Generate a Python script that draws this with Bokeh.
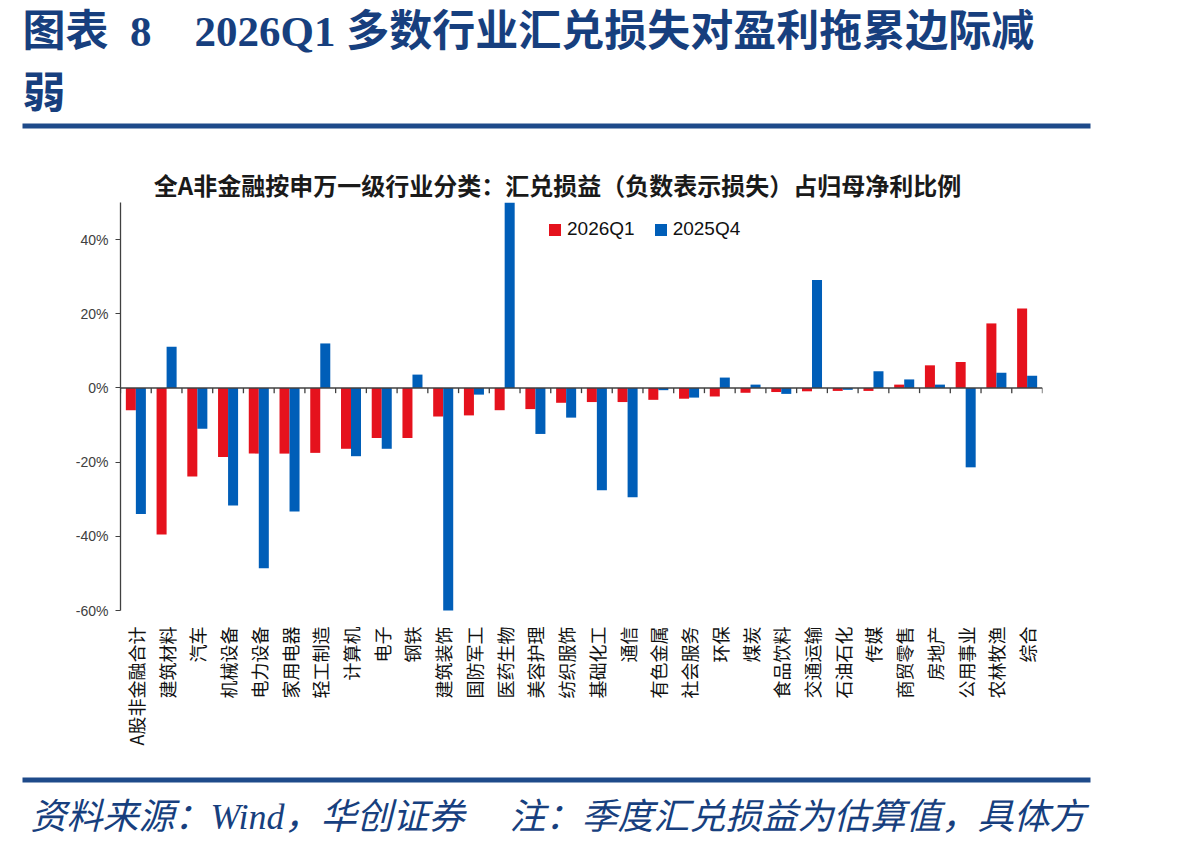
import math
from bokeh.plotting import figure
from bokeh.layouts import column
from bokeh.models import (Range1d, FixedTicker, NumeralTickFormatter, Span, Label,
                          ColumnDataSource)
from bokeh.embed import file_html
from bokeh.resources import INLINE

# 申万一级行业：汇兑损益占归母净利比例
industries = ["A股非金融合计", "建筑材料", "汽车", "机械设备", "电力设备", "家用电器",
              "轻工制造", "计算机", "电子", "钢铁", "建筑装饰", "国防军工", "医药生物",
              "美容护理", "纺织服饰", "基础化工", "通信", "有色金属", "社会服务", "环保",
              "煤炭", "食品饮料", "交通运输", "石油石化", "传媒", "商贸零售", "房地产",
              "公用事业", "农林牧渔", "综合"]
q1_2026 = [-0.060, -0.395, -0.239, -0.186, -0.177, -0.177, -0.175, -0.164, -0.135,
           -0.135, -0.077, -0.074, -0.060, -0.057, -0.040, -0.038, -0.038, -0.032,
           -0.029, -0.023, -0.013, -0.011, -0.009, -0.008, -0.008, 0.009, 0.061,
           0.070, 0.174, 0.214]
q4_2025 = [-0.340, 0.111, -0.110, -0.317, -0.486, -0.333, 0.120, -0.184, -0.164,
           0.036, -0.610, -0.018, 0.520, -0.124, -0.080, -0.276, -0.295, -0.006,
           -0.026, 0.028, 0.009, -0.016, 0.291, -0.005, 0.045, 0.023, 0.009,
           -0.214, 0.041, 0.033]
series_names = ["2026Q1", "2025Q4"]
y_ticks = [-0.6, -0.4, -0.2, 0.0, 0.2, 0.4]

RED = "#E5121D"
BLUE = "#005EB8"
NAVY = "#173F7E"
RULE = "#1E4A8A"
HEAD_FONT = "'Liberation Serif', 'Noto Sans CJK SC'"
NB = "\u00a0"

W = 1198
HEAD_H, CHART_H, FOOT_H = 202, 568, 78
L, R = 120, 1042


def banner(height):
    """A bare figure whose data coordinates are pixel positions (y downward)."""
    f = figure(width=W, height=height, output_backend="svg", toolbar_location=None,
               x_range=Range1d(0, W), y_range=Range1d(height, 0),
               min_border=0, outline_line_color=None, x_axis_type=None,
               y_axis_type=None, background_fill_color="white",
               border_fill_color="white")
    f.frame_align = False
    f.title.visible = False
    f.xgrid.visible = False
    f.ygrid.visible = False
    return f


# ---- header: report title, rule, chart title
head = banner(HEAD_H)
head.add_layout(Label(x=22, y=31,
                      text=f"图表{NB * 2}8{NB * 4}2026Q1 多数行业汇兑损失对盈利拖累边际减",
                      text_font=HEAD_FONT, text_font_style="bold", text_font_size="43px",
                      text_color=NAVY, text_align="left", text_baseline="middle"))
head.add_layout(Label(x=22, y=93, text="弱", text_font=HEAD_FONT,
                      text_font_style="bold", text_font_size="43px", text_color=NAVY,
                      text_align="left", text_baseline="middle"))
head.quad(left=[22], right=[1090], top=[123], bottom=[128], fill_color=RULE,
          line_color=None)
head.add_layout(Label(x=557, y=184,
                      text="全A非金融按申万一级行业分类：汇兑损益（负数表示损失）占归母净利比例",
                      text_font="Noto Sans CJK SC", text_font_style="bold",
                      text_font_size="24px", text_color="#1a1a1a",
                      text_align="center", text_baseline="middle"))

# ---- main bar chart
n = len(industries)
pos = [i + 0.5 for i in range(n)]
src = ColumnDataSource(dict(
    x1=[x - 0.163 for x in pos], x2=[x + 0.163 for x in pos],
    a=q1_2026, b=q4_2025, name=industries))

p = figure(width=W, height=CHART_H, output_backend="svg", toolbar_location=None,
           x_range=Range1d(0, n), y_range=Range1d(-0.60, 0.50),
           min_border_left=L, min_border_right=W - R, min_border_top=0,
           min_border_bottom=160, outline_line_color=None,
           background_fill_color="white", border_fill_color="white")
p.frame_align = False
p.title.visible = False
p.xgrid.visible = False
p.ygrid.visible = False

p.vbar(x="x1", top="a", bottom=0, width=0.326, source=src, fill_color=RED,
       line_color=None, legend_label=series_names[0])
p.vbar(x="x2", top="b", bottom=0, width=0.326, source=src, fill_color=BLUE,
       line_color=None, legend_label=series_names[1])

# zero line with category separators
p.add_layout(Span(location=0, dimension="width", line_color="#404040", line_width=1.6))
p.segment(x0=list(range(n + 1)), x1=list(range(n + 1)), y0=0, y1=-0.014,
          line_color="#404040", line_width=1.3)

ya = p.yaxis[0]
ya.ticker = FixedTicker(ticks=y_ticks)
ya.formatter = NumeralTickFormatter(format="0%")
ya.axis_line_color = "#404040"
ya.axis_line_width = 1.3
ya.major_tick_line_color = "#404040"
ya.major_tick_out = 5
ya.major_tick_in = 0
ya.minor_tick_line_color = None
ya.major_label_text_font = "Liberation Sans"
ya.major_label_text_font_size = "14px"
ya.major_label_text_color = "#404040"
ya.major_label_standoff = 7

xa = p.xaxis[0]
xa.ticker = FixedTicker(ticks=pos)
xa.major_label_overrides = {x: name for x, name in zip(pos, industries)}
xa.axis_line_color = None
xa.major_tick_line_color = None
xa.minor_tick_line_color = None
xa.major_label_orientation = math.pi / 2
xa.major_label_text_font = "Noto Sans CJK SC"
xa.major_label_text_font_size = "18px"
xa.major_label_text_color = "#111111"
xa.major_label_standoff = 10

lg = p.legend[0]
lg.orientation = "horizontal"
lg.location = (427, 370)
lg.border_line_color = None
lg.background_fill_alpha = 0
lg.padding = 0
lg.margin = 0
lg.spacing = 18
lg.glyph_width = 15
lg.glyph_height = 15
lg.label_standoff = 5
lg.label_text_font = "Liberation Sans"
lg.label_text_font_size = "19px"
lg.label_text_color = "#111111"

# ---- footer: rule and source note
foot = banner(FOOT_H)
foot.quad(left=[22], right=[1090], top=[7], bottom=[12], fill_color=RULE,
          line_color=None)
foot.add_layout(Label(x=30, y=46,
                      text=f"资料来源：Wind，华创证券{NB * 5}注：季度汇兑损益为估算值，具体方",
                      text_font=HEAD_FONT, text_font_style="italic",
                      text_font_size="36px", text_color=NAVY, text_align="left",
                      text_baseline="middle"))

page = column(head, p, foot, spacing=0)
open("out.html", "w").write(file_html(page, INLINE))
